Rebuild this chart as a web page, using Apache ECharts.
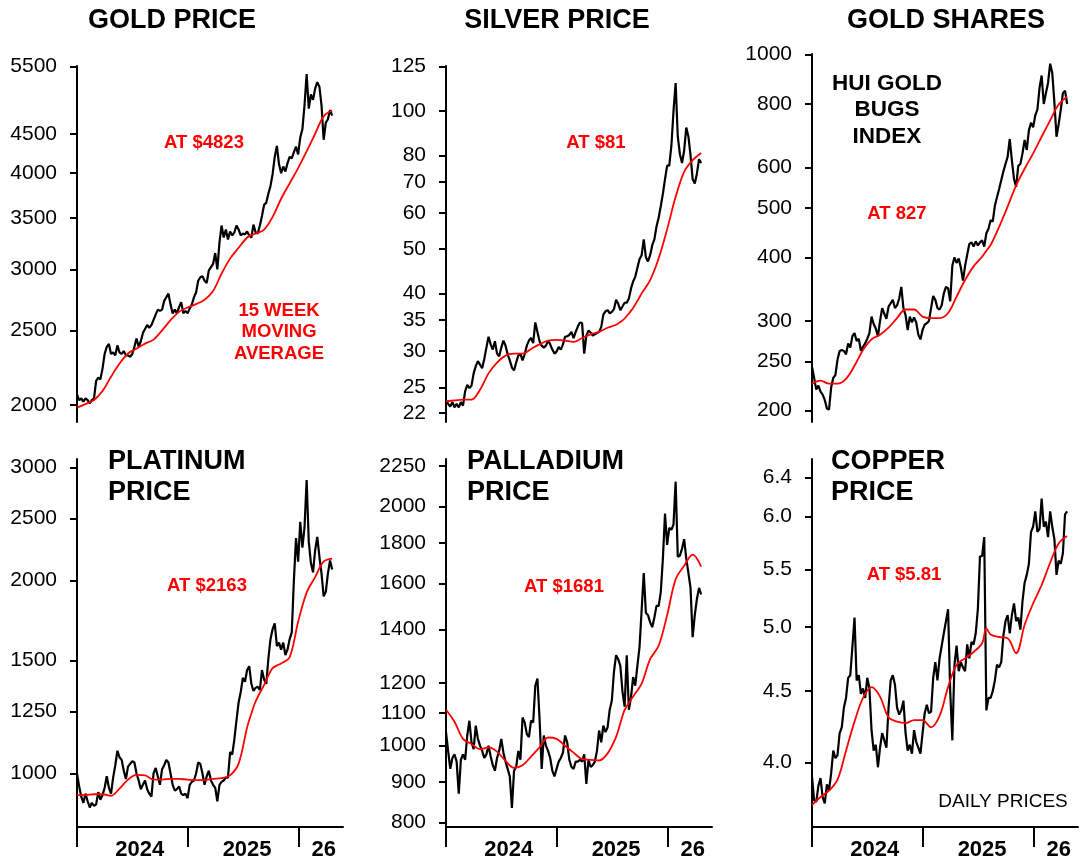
<!DOCTYPE html>
<html><head><meta charset="utf-8">
<script src="https://cdn.jsdelivr.net/npm/echarts@6/dist/echarts.min.js"></script>
<style>html,body{margin:0;padding:0;background:#fff}#c{width:1080px;height:861px}</style>
</head><body><div id="c"></div>
<script>
// ---- weekly closes (week 0 = first week of 2024) ----
const goldPrice = [2065,2030,2040,2020,2040,2030,2010,2030,2040,2150,
 2170,2160,2230,2330,2380,2400,2330,2340,2320,2390,
 2340,2330,2350,2320,2320,2310,2330,2380,2440,2380,
 2420,2480,2510,2540,2520,2540,2580,2620,2660,2650,
 2660,2730,2760,2790,2700,2630,2660,2630,2680,2720,
 2630,2650,2630,2670,2700,2760,2800,2900,2930,2940,
 2900,2880,2990,3020,3050,3150,3000,3250,3420,3300,
 3380,3280,3360,3320,3350,3420,3380,3320,3340,3330,
 3360,3320,3300,3430,3350,3340,3420,3520,3640,3660,
 3760,3850,3990,4200,4340,4110,4000,4080,4020,4120,
 4200,4180,4260,4330,4230,4450,4560,4900,5380,4850,
 5060,4980,5150,5250,5180,4900,4420,4650,4700,4830,
 4750];
const silverPrice = [23.4,23.0,22.7,23.2,22.6,23.0,22.6,23.2,22.8,24.5,
 25.3,24.9,25.2,26.8,27.8,28.5,28.0,27.5,28.8,30.5,
 32.2,31.0,30.2,31.5,29.6,29.2,30.5,31.6,30.8,29.5,
 28.6,27.6,27.2,28.3,29.3,29.6,28.6,29.5,30.8,31.6,
 32.0,31.2,34.6,33.0,31.5,30.8,30.5,30.8,31.6,31.0,
 30.2,29.6,29.9,30.6,30.2,31.0,32.2,32.3,32.5,33.0,
 32.0,33.0,33.9,34.6,34.5,29.6,32.4,33.2,32.9,32.4,
 32.6,32.8,33.0,33.8,36.0,36.6,36.8,36.2,36.5,37.0,
 38.8,38.0,36.8,37.5,38.2,38.2,39.0,41.0,42.5,43.5,
 45.5,47.5,48.5,52.5,48.0,47.0,48.5,51.0,52.5,56.0,
 58.5,62.0,66.0,71.0,76.0,76.0,84.0,100.0,115.0,88.0,
 80.5,77.0,82.0,92.0,88.0,80.0,71.0,69.5,73.0,78.5,
 77.0];
const huiPrice = [244,232,220,224,218,215,210,202,201,222,
 232,235,252,262,263,262,258,271,266,280,
 284,274,277,262,267,271,277,284,306,296,
 290,280,300,318,310,303,320,325,330,318,
 322,332,350,318,308,288,306,298,305,298,
 282,276,288,295,297,300,318,336,330,318,
 316,322,340,350,348,328,385,400,390,398,
 382,360,385,405,425,428,420,430,422,428,
 432,420,446,455,473,470,505,525,545,567,
 590,610,630,683,620,570,550,605,610,640,
 680,650,710,735,720,760,780,860,910,800,
 840,880,960,920,805,690,730,780,840,850,
 800];
const platinumPrice = [1000,955,920,900,930,905,885,900,890,895,
 935,910,925,950,990,950,930,985,1030,1085,
 1060,1050,1010,980,1025,1035,1045,1040,1000,975,
 945,960,975,945,930,920,1000,1020,990,960,
 1015,1030,1050,1040,1000,960,940,945,955,930,
 925,930,915,960,970,975,1000,1040,1035,1000,
 960,990,1010,975,960,950,905,960,970,975,
 985,985,1080,1070,1130,1210,1290,1340,1410,1390,
 1450,1470,1380,1345,1360,1365,1350,1450,1400,1380,
 1510,1620,1680,1715,1580,1600,1560,1600,1530,1560,
 1620,1660,2000,2330,2140,2470,2250,2420,2870,2300,
 2130,2060,2230,2340,2180,2050,1890,1920,2050,2150,
 2080];
const palladiumPrice = [1040,985,935,965,975,955,870,960,975,960,
 1030,1075,1010,990,1060,1020,1000,985,965,975,
 1000,970,945,930,965,985,1020,980,955,935,
 915,835,930,940,985,960,1085,1070,1035,1025,
 1075,1070,1190,1215,1080,935,1030,1000,985,965,
 930,915,935,955,965,980,1030,1010,960,940,
 935,955,955,960,955,975,895,960,940,945,
 955,985,1045,1010,1060,1040,1055,1110,1140,1240,
 1300,1285,1260,1170,1120,1300,1110,1150,1220,1190,
 1260,1330,1480,1650,1470,1460,1430,1410,1450,1500,
 1500,1560,1720,1960,1790,1880,1870,1900,2150,1730,
 1735,1770,1820,1720,1650,1580,1370,1460,1530,1580,
 1550];
const copperPrice = [3.91,3.76,3.75,3.85,3.90,3.78,3.74,3.86,3.82,3.93,
 4.08,4.03,4.05,4.20,4.24,4.38,4.45,4.60,4.62,4.84,
 5.08,4.58,4.62,4.48,4.52,4.45,4.60,4.52,4.22,4.08,
 4.12,3.97,4.10,4.20,4.15,4.10,4.38,4.58,4.62,4.55,
 4.38,4.33,4.36,4.43,4.20,4.08,4.12,4.06,4.22,4.14,
 4.10,4.06,4.20,4.34,4.40,4.34,4.35,4.60,4.72,4.58,
 4.75,4.85,4.95,5.05,5.15,4.50,4.15,4.70,4.85,4.65,
 4.72,4.68,4.65,4.86,4.75,4.88,4.86,4.95,5.15,5.62,
 5.62,5.80,4.36,4.45,4.45,4.50,4.58,4.70,4.68,4.72,
 4.93,5.05,5.10,4.95,5.10,5.20,5.05,5.08,4.98,5.22,
 5.38,5.45,5.55,5.85,5.90,6.05,5.85,5.88,6.18,5.90,
 5.95,5.80,6.05,5.90,5.78,5.45,5.58,5.55,5.65,6.02,
 6.05];

// ---- 15 week moving averages, sampled at these weeks ----
const maWeeks = [0,4,8,12,16,20,24,28,32,36,40,44,48,52,56,60,64,68,72,76,80,82,84,88,92,96,100,104,108,112,116,120];
const goldMA = [1985,2005,2030,2085,2176,2264,2333,2368,2403,2432,2500,2577,2642,2677,2704,2740,2812,2963,3098,3200,3300,3325,3338,3378,3510,3705,3880,4060,4270,4500,4740,4823];
const silverMA = [23.3,23.4,23.5,23.5,24.7,26.8,28.3,29.3,29.6,29.6,30.3,31.0,31.6,31.7,31.6,31.4,32.0,32.6,33.0,33.7,34.2,34.7,35.3,37.2,40.0,42.8,47.7,55.2,65.0,73.7,78.1,81.0];
const huiMA = [226,229,226,226,231,245,263,276,282,291,304,316,316,306,304,304,311,335,361,384,401,412,423,459,503,554,597,640,690,743,798,827];
const platinumMA = [925,925,928,928,923,947,978,995,993,978,978,981,981,978,976,976,981,983,993,1036,1180,1240,1295,1375,1460,1485,1518,1725,1915,2025,2140,2163];
const palladiumMA = [1110,1072,1020,1005,990,995,983,957,938,945,969,995,1024,1020,1000,980,962,960,958,978,1026,1067,1109,1153,1197,1285,1336,1460,1620,1685,1740,1681];
const copperMA = [3.73,3.78,3.82,3.89,4.08,4.28,4.45,4.53,4.46,4.31,4.28,4.27,4.29,4.29,4.24,4.32,4.53,4.70,4.75,4.80,4.87,4.99,4.94,4.92,4.91,4.79,5.02,5.20,5.36,5.56,5.74,5.81];

// ---- axis ticks / labels ----
const yearTickWeeks = [0, 52.29, 104.43];
const xLabelWeeks = [29.5, 80, 116];
const xLabelTexts = ['2024', '2025', '26'];
const goldTicks = [2000,2500,3000,3500,4000,4500,5500];
const silverTicks = [22,25,30,35,40,50,60,70,80,100,125];
const huiTicks = [200,250,300,400,500,600,800,1000];
const platinumTicks = [1000,1250,1500,2000,2500,3000];
const palladiumTicks = [800,900,1000,1100,1200,1400,1600,1800,2000,2250];
const copperTicks = [4.0,4.5,5.0,5.5,6.0,6.4];

const FONT = '"Liberation Sans", Arial, sans-serif';
const panels = [
  {price: goldPrice, ma: goldMA, ticks: goldTicks, dec: 0, left: 77, top: 66, height: 356, min: 1901, max: 5510, bottom: false},
  {price: silverPrice, ma: silverMA, ticks: silverTicks, dec: 0, left: 446, top: 66, height: 356, min: 21.0, max: 125.3, bottom: false},
  {price: huiPrice, ma: huiMA, ticks: huiTicks, dec: 0, left: 812, top: 54, height: 368, min: 190, max: 1003, bottom: false},
  {price: platinumPrice, ma: platinumMA, ticks: platinumTicks, dec: 0, left: 77, top: 459, height: 368, min: 825, max: 3095, bottom: true},
  {price: palladiumPrice, ma: palladiumMA, ticks: palladiumTicks, dec: 0, left: 446, top: 459, height: 368, min: 790, max: 2296, bottom: true},
  {price: copperPrice, ma: copperMA, ticks: copperTicks, dec: 1, left: 812, top: 459, height: 368, min: 3.598, max: 6.596, bottom: true}
];

const grid = [], xAxis = [], yAxis = [], series = [];
panels.forEach((p, i) => {
  grid.push({left: p.left, top: p.top, width: 266, height: p.height, containLabel: false});
  xAxis.push({
    type: 'value', gridIndex: i, min: 0, max: 125.1, show: p.bottom,
    splitLine: {show: false},
    axisLine: {show: true, onZero: false, lineStyle: {color: '#000', width: 2}},
    axisTick: {show: true, inside: false, length: 20, customValues: yearTickWeeks, lineStyle: {color: '#000', width: 2}},
    axisLabel: {show: true, customValues: xLabelWeeks, margin: 12, color: '#000', fontFamily: FONT, fontSize: 22, fontWeight: 'bold',
      formatter: v => { const k = xLabelWeeks.findIndex(w => Math.abs(w - v) < 0.01); return k >= 0 ? xLabelTexts[k] : ''; }}
  });
  yAxis.push({
    type: 'log', gridIndex: i, min: p.min, max: p.max,
    splitLine: {show: false}, minorTick: {show: false},
    axisLine: {show: true, onZero: false, lineStyle: {color: '#000', width: 2}},
    axisTick: {show: true, inside: false, length: 7, customValues: p.ticks, lineStyle: {color: '#000', width: 2}},
    axisLabel: {show: true, customValues: p.ticks, margin: 20, color: '#000', fontFamily: FONT, fontSize: 21,
      formatter: v => Number(v).toFixed(p.dec)}
  });
  series.push({
    type: 'line', xAxisIndex: i, yAxisIndex: i, showSymbol: false, symbol: 'none',
    data: p.price.map((v, k) => [k, v]),
    lineStyle: {color: '#000', width: 2.2}, z: 2, animation: false
  });
  series.push({
    type: 'line', xAxisIndex: i, yAxisIndex: i, showSymbol: false, symbol: 'none', smooth: 0.35,
    data: maWeeks.map((w, k) => [w, p.ma[k]]),
    lineStyle: {color: '#ff0000', width: 1.8}, z: 3, animation: false
  });
});

function txt(text, x, y, size, opts) {
  opts = opts || {};
  return {type: 'text', x: x, y: y, z: 10, style: {
    text: text, fill: opts.fill || '#000', font: (opts.weight || 'bold') + ' ' + size + 'px ' + FONT,
    align: opts.align || 'center', verticalAlign: 'middle', lineHeight: opts.lh || size
  }};
}
const RED = '#ff0000';
const graphic = [
  txt('GOLD PRICE', 172, 21, 27),
  txt('SILVER PRICE', 557, 21, 27),
  txt('GOLD SHARES', 946, 21, 27),
  txt('HUI GOLD\nBUGS\nINDEX', 887, 110, 22.5, {lh: 26.5}),
  txt('PLATINUM\nPRICE', 108, 477, 27, {align: 'left', lh: 31}),
  txt('PALLADIUM\nPRICE', 467, 477, 27, {align: 'left', lh: 31}),
  txt('COPPER\nPRICE', 831, 477, 27, {align: 'left', lh: 31}),
  txt('AT $4823', 204, 143, 18.5, {fill: RED}),
  txt('15 WEEK\nMOVING\nAVERAGE', 279, 332, 18.5, {fill: RED, lh: 21.5}),
  txt('AT $81', 596, 143, 18.5, {fill: RED}),
  txt('AT 827', 897, 214, 18.5, {fill: RED}),
  txt('AT $2163', 207, 586, 18.5, {fill: RED}),
  txt('AT $1681', 564, 587, 18.5, {fill: RED}),
  txt('AT $5.81', 904, 575, 18.5, {fill: RED}),
  txt('DAILY PRICES', 1003, 802, 19, {weight: 'normal'})
];

const chart = echarts.init(document.getElementById('c'), null, {renderer: 'canvas'});
chart.setOption({animation: false, backgroundColor: '#fff', grid, xAxis, yAxis, series, graphic});
</script></body></html>
